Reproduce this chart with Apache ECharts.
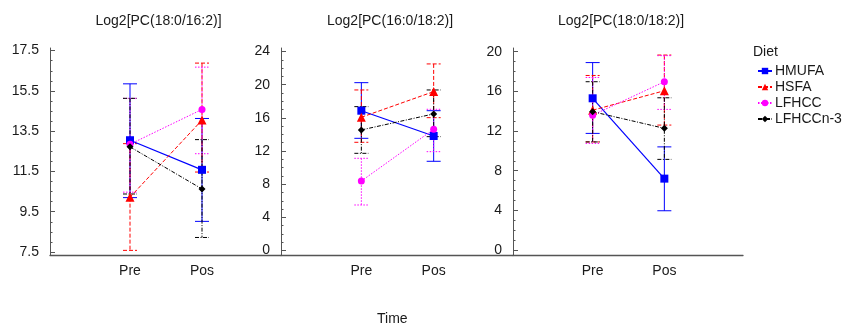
<!DOCTYPE html>
<html>
<head>
<meta charset="utf-8">
<style>
  html, body { margin: 0; padding: 0; background: #fff; }
  #chart { width: 842px; height: 326px; }
</style>
<script src="https://cdn.jsdelivr.net/npm/echarts@6/dist/echarts.min.js"></script>
</head>
<body>
<div id="chart"></div>
<script>
// Categories and labels
const timeLabels = ['Pre', 'Pos'];
const dietNames = ['HMUFA', 'HSFA', 'LFHCC', 'LFHCCn-3'];
const panelTitles = ['Log2[PC(18:0/16:2)]', 'Log2[PC(16:0/18:2)]', 'Log2[PC(18:0/18:2)]'];
const xTitle = 'Time';
const legendTitle = 'Diet';

// Y tick labels per panel
const yTicks1 = [7.5, 9.5, 11.5, 13.5, 15.5, 17.5];
const yTicks2 = [0, 4, 8, 12, 16, 20, 24];
const yTicks3 = [0, 4, 8, 12, 16, 20];

// Means and error-bar ends per diet (rows: HMUFA, HSFA, LFHCC, LFHCCn-3; cols: Pre, Pos)
const p1Mean = [[13.05, 11.58], [10.22, 14.05], [12.85, 14.58], [12.72, 10.63]];
const p1Low  = [[10.20, 9.02], [7.58, 11.47], [10.47, 12.38], [10.38, 8.22]];
const p1High = [[15.85, 14.13], [12.88, 16.88], [15.13, 16.68], [15.13, 13.08]];

const p2Mean = [[16.86, 13.81], [16.07, 19.16], [8.38, 14.62], [14.54, 16.47]];
const p2Low  = [[13.53, 10.76], [13.05, 16.02], [5.49, 11.92], [11.72, 13.73]];
const p2High = [[20.24, 16.86], [19.36, 22.50], [11.12, 17.03], [17.35, 19.36]];

const p3Mean = [[15.30, 7.20], [14.10, 16.06], [13.60, 16.97], [13.95, 12.27]];
const p3Low  = [[11.76, 3.96], [10.90, 12.60], [10.75, 14.18], [10.90, 9.14]];
const p3High = [[18.90, 10.40], [17.60, 19.66], [17.40, 19.60], [16.97, 15.35]];

// Presentation
const FONT = '"Liberation Sans", Arial, sans-serif';
const TEXT = '#1a1a1a';
const AXIS = '#555';
const dietStyle = [
  { color: '#0000ff', dash: 'solid',        symbol: 'rect',     size: 8, width: 1.2 },
  { color: '#ff0000', dash: [4, 2],         symbol: 'triangle', size: 9, width: 1 },
  { color: '#ff00ff', dash: [1.5, 1.5],     symbol: 'circle',   size: 7, width: 1 },
  { color: '#000000', dash: [4, 1.5, 1, 1.5], symbol: 'diamond', size: 7, width: 1 }
];

const panels = [
  { ticks: yTicks1, min: 7.35, max: 17.63, mean: p1Mean, low: p1Low, high: p1High, left: 50,  width: 231 },
  { ticks: yTicks2, min: -0.54, max: 24.42, mean: p2Mean, low: p2Low, high: p2High, left: 281, width: 232 },
  { ticks: yTicks3, min: -0.5, max: 20.37, mean: p3Mean, low: p3Low, high: p3High, left: 513, width: 230 }
];

const xPos = [1, 2]; // Pre, Pos positions on each panel's x scale

function minorOf(ticks) {
  const step = (ticks[1] - ticks[0]) / 4;
  const out = [];
  for (let v = ticks[0]; v <= ticks[ticks.length - 1] + 1e-9; v += step) {
    out.push(+v.toFixed(4));
  }
  return out;
}

const grid = [], xAxis = [], yAxis = [], series = [], graphic = [];

panels.forEach((p, i) => {
  grid.push({ left: p.left, width: p.width, top: 48, bottom: 71, containLabel: false });
  xAxis.push({
    type: 'value', gridIndex: i, min: -0.111, max: 3.097,
    axisLine: { show: true, onZero: false, lineStyle: { color: AXIS, width: 1.3 } },
    axisTick: { show: false },
    splitLine: { show: false },
    axisLabel: {
      customValues: xPos,
      formatter: v => timeLabels[xPos.indexOf(v)] || '',
      color: TEXT, fontFamily: FONT, fontSize: 14, margin: 9
    }
  });
  // major ticks + labels
  yAxis.push({
    type: 'value', gridIndex: i, position: 'left', min: p.min, max: p.max,
    axisLine: { show: true, onZero: false, lineStyle: { color: AXIS, width: 1 } },
    axisTick: { show: true, inside: true, length: 5, customValues: p.ticks, lineStyle: { color: AXIS } },
    axisLabel: { customValues: p.ticks, color: TEXT, fontFamily: FONT, fontSize: 14, margin: 11 },
    splitLine: { show: false }
  });
  // minor ticks
  yAxis.push({
    type: 'value', gridIndex: i, position: 'left', offset: 0, min: p.min, max: p.max,
    axisLine: { show: false, onZero: false },
    axisTick: { show: true, inside: true, length: 2.5, customValues: minorOf(p.ticks), lineStyle: { color: AXIS } },
    axisLabel: { show: false },
    splitLine: { show: false }
  });

  dietNames.forEach((name, d) => {
    const st = dietStyle[d];
    // error bars
    series.push({
      type: 'custom', name: name + ' SD', xAxisIndex: i, yAxisIndex: 2 * i,
      data: xPos.map((x, k) => [x, p.low[d][k], p.high[d][k]]),
      renderItem: (params, api) => {
        const top = api.coord([api.value(0), api.value(2)]);
        const bot = api.coord([api.value(0), api.value(1)]);
        const half = 7;
        const style = { stroke: st.color, lineWidth: 1, lineDash: st.dash === 'solid' ? null : st.dash, fill: null };
        return {
          type: 'group',
          children: [
            { type: 'line', shape: { x1: top[0], y1: top[1], x2: bot[0], y2: bot[1] }, style },
            { type: 'line', shape: { x1: top[0] - half, y1: top[1], x2: top[0] + half, y2: top[1] }, style },
            { type: 'line', shape: { x1: bot[0] - half, y1: bot[1], x2: bot[0] + half, y2: bot[1] }, style }
          ]
        };
      },
      silent: true, z: 2
    });
    // mean line
    series.push({
      type: 'line', name: name, xAxisIndex: i, yAxisIndex: 2 * i,
      data: xPos.map((x, k) => [x, p.mean[d][k]]),
      symbol: st.symbol, symbolSize: st.size, showAllSymbol: true,
      itemStyle: { color: st.color },
      lineStyle: { color: st.color, width: st.width, type: st.dash },
      animation: false, z: 3
    });
  });

  graphic.push({
    type: 'text', left: p.left + p.width / 2 - 70, top: 14,
    style: { text: panelTitles[i], font: '14px ' + FONT, fill: TEXT }
  });
});

graphic.push({
  type: 'text', left: 377, top: 312,
  style: { text: xTitle, font: '14px ' + FONT, fill: TEXT }
});
graphic.push({
  type: 'text', left: 753, top: 45,
  style: { text: legendTitle, font: '14px ' + FONT, fill: TEXT }
});

const chart = echarts.init(document.getElementById('chart'), null, { renderer: 'canvas' });
chart.setOption({
  animation: false,
  backgroundColor: '#fff',
  grid, xAxis, yAxis, series, graphic,
  legend: {
    data: dietNames, orient: 'vertical', left: 752, top: 59,
    itemWidth: 14, itemHeight: 8, itemGap: 2,
    textStyle: { color: TEXT, fontFamily: FONT, fontSize: 14, padding: [0, 0, 0, -2] }
  }
});
</script>
</body>
</html>
